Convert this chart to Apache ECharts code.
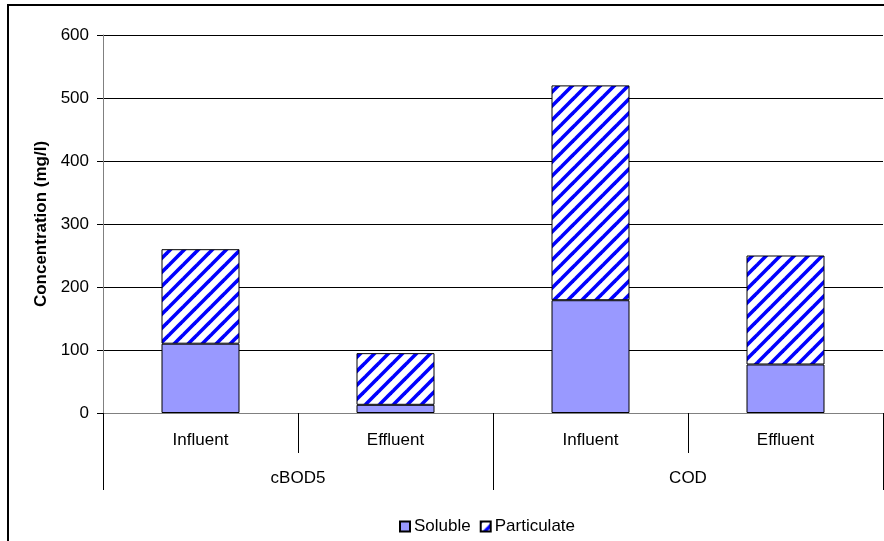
<!DOCTYPE html>
<html>
<head>
<meta charset="utf-8">
<script src="https://cdn.jsdelivr.net/npm/echarts@6/dist/echarts.min.js"></script>
<style>
html,body{margin:0;padding:0;background:#fff;}
#chart{width:884px;height:541px;}
</style>
</head>
<body>
<div id="chart"></div>
<script>
const categories = ['Influent', 'Effluent', 'Influent', 'Effluent'];
const groups = ['cBOD5', 'COD'];
const soluble = [110, 13, 179, 77];
const particulate = [150, 82, 341, 173];
const seriesNames = ['Soluble', 'Particulate'];
const yMin = 0, yMax = 600, yStep = 100;
const yTitle = 'Concentration (mg/l)';

const FONT = "'Liberation Sans', Arial, sans-serif";

function makeHatch() {
  const s = 14;
  const c = document.createElement('canvas');
  c.width = s; c.height = s;
  const g = c.getContext('2d');
  g.fillStyle = '#ffffff';
  g.fillRect(0, 0, s, s);
  g.strokeStyle = '#0000ff';
  g.lineWidth = 3.6;
  for (const off of [-s, 0, s]) {
    g.beginPath();
    g.moveTo(off - 3, s + 3);
    g.lineTo(off + s + 3, -3);
    g.stroke();
  }
  return c;
}
const hatch = { image: makeHatch(), repeat: 'repeat' };

const chart = echarts.init(document.getElementById('chart'), null, { renderer: 'canvas' });
chart.setOption({
  animation: false,
  backgroundColor: '#fff',
  textStyle: { fontFamily: FONT },
  grid: { left: 103, right: 1, top: 35, bottom: 128, containLabel: false },
  graphic: [{
    type: 'rect', silent: true, z: 100,
    shape: { x: 8, y: 5, width: 900, height: 600 },
    style: { fill: 'none', stroke: '#000', lineWidth: 2 }
  }],
  legend: {
    data: seriesNames,
    left: 399, top: 518,
    itemWidth: 10, itemHeight: 10, itemGap: 9,
    icon: 'rect',
    textStyle: { fontSize: 17, color: '#000', fontFamily: FONT, padding: [0, 0, 0, -1] },
    padding: 0
  },
  xAxis: [{
    type: 'category',
    data: categories,
    position: 'bottom',
    axisLine: { show: true, lineStyle: { color: '#808080', width: 1 } },
    axisTick: { show: true, length: 40, interval: 0, lineStyle: { color: '#000' } },
    axisLabel: { interval: 0, margin: 19, fontSize: 17, color: '#000', fontFamily: FONT },
    splitLine: { show: false }
  }, {
    type: 'category',
    data: groups,
    position: 'bottom',
    offset: 0,
    axisLine: { show: false },
    axisTick: { show: true, length: 77, interval: 0, lineStyle: { color: '#000' } },
    axisLabel: { interval: 0, margin: 57, fontSize: 17, color: '#000', fontFamily: FONT },
    splitLine: { show: false }
  }],
  yAxis: {
    type: 'value',
    min: yMin, max: yMax, interval: yStep,
    name: yTitle,
    nameLocation: 'middle',
    nameGap: 52,
    nameTextStyle: { fontSize: 17, fontWeight: 'bold', color: '#000', fontFamily: FONT },
    axisLine: { show: true, lineStyle: { color: '#808080', width: 1 } },
    axisTick: { show: true, length: 6, lineStyle: { color: '#000' } },
    axisLabel: { margin: 14, fontSize: 17, color: '#000', fontFamily: FONT },
    splitLine: { show: true, lineStyle: { color: '#000', width: 1 } }
  },
  series: [{
    name: seriesNames[0],
    type: 'bar',
    stack: 'total',
    xAxisIndex: 0,
    barWidth: '40%',
    data: soluble,
    itemStyle: { color: '#9999ff', borderColor: '#000', borderWidth: 1 }
  }, {
    name: seriesNames[1],
    type: 'bar',
    stack: 'total',
    xAxisIndex: 0,
    barWidth: '40%',
    data: particulate,
    itemStyle: { color: hatch, borderColor: '#000', borderWidth: 1 }
  }]
});
</script>
</body>
</html>
